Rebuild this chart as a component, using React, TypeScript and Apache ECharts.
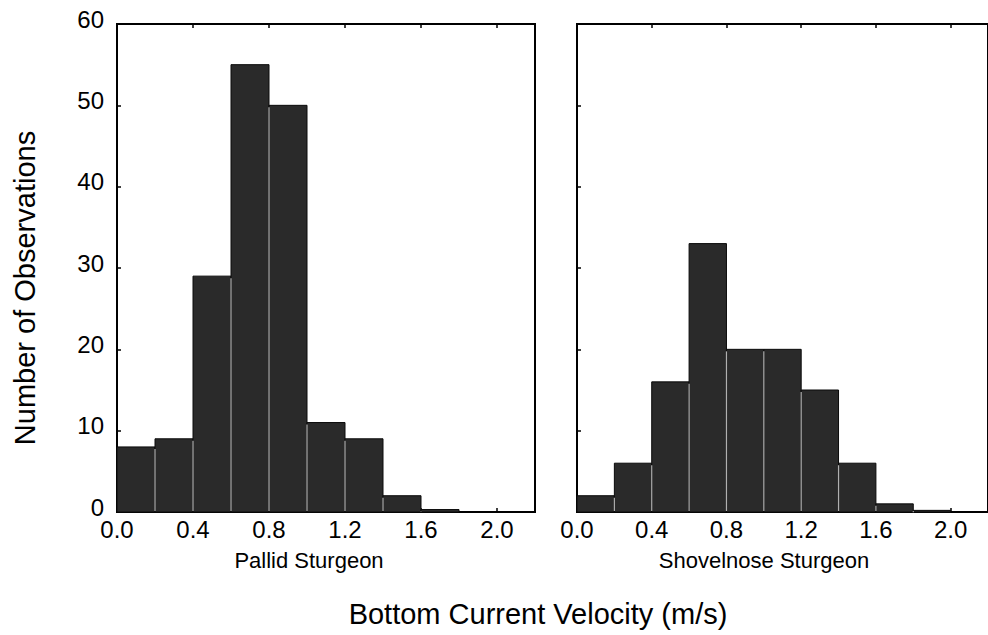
import React, { useEffect, useRef } from "react";
import * as echarts from "echarts";

// Histogram bins: start of each 0.2 m/s bin
const binStarts = [0.0, 0.2, 0.4, 0.6, 0.8, 1.0, 1.2, 1.4, 1.6, 1.8, 2.0];
const binWidth = 0.2;
const pallidCounts = [8, 9, 29, 55, 50, 11, 9, 2, 0.3, 0, 0];
const shovelnoseCounts = [2, 6, 16, 33, 20, 20, 15, 6, 1, 0.2, 0];
const yTicks = [0, 10, 20, 30, 40, 50, 60];
const xTicks = [0.0, 0.4, 0.8, 1.2, 1.6, 2.0];
const panelTitles = ["Pallid Sturgeon", "Shovelnose Sturgeon"];
const yTitle = "Number of Observations";
const xTitle = "Bottom Current Velocity (m/s)";

const FONT = "'Liberation Sans', Arial, Helvetica, sans-serif";

function toData(counts: number[]) {
  return binStarts.map((b, i) => [b, counts[i], i > 0 ? counts[i - 1] : 0]);
}

const renderBar = (params: any, api: any) => {
  const x0 = api.value(0);
  const y = api.value(1);
  const prev = api.value(2);
  if (y <= 0) return null;
  const pBase = api.coord([x0, 0]);
  const pTop = api.coord([x0 + binWidth, y]);
  const sepTop = api.coord([x0, Math.min(y, prev)]);
  const children: any[] = [
    {
      type: "rect",
      shape: {
        x: pBase[0],
        y: pTop[1],
        width: pTop[0] - pBase[0],
        height: pBase[1] - pTop[1],
      },
      style: { fill: "#2a2a2a", stroke: "#0a0a0a", lineWidth: 1 },
    },
  ];
  if (prev > 0) {
    children.push({
      type: "line",
      shape: { x1: pBase[0], y1: pBase[1] - 1, x2: pBase[0], y2: sepTop[1] + 2 },
      style: { stroke: "#b0b0b0", lineWidth: 1.2 },
    });
  }
  return { type: "group", children };
};

export default function App() {
  const ref = useRef<HTMLDivElement>(null);
  useEffect(() => {
    if (!ref.current) return;
    const chart = echarts.init(ref.current, null, { renderer: "svg" });
    const grids = [
      { left: 117, top: 24, width: 418, height: 488 },
      { left: 577, top: 24, width: 415, height: 488 },
    ];
    const xAxis: any[] = [];
    const yAxis: any[] = [];
    grids.forEach((g, i) => {
      xAxis.push({
        type: "value",
        gridIndex: i,
        min: 0,
        max: 2.2,
        interval: 0.4,
        position: "bottom",
        axisLine: { show: false },
        axisTick: { show: true, inside: true, length: 4, lineStyle: { color: "#000", width: 1.5 } },
        splitLine: { show: false },
        axisLabel: {
          show: true,
          margin: 5,
          fontSize: 24,
          fontFamily: FONT,
          color: "#000",
          showMaxLabel: false,
          formatter: (v: number) => (v > 2.05 ? "" : v.toFixed(1)),
        },
      });
      xAxis.push({
        type: "value",
        gridIndex: i,
        min: 0,
        max: 2.2,
        interval: 0.4,
        position: "top",
        axisLine: { show: false },
        axisTick: { show: true, inside: true, length: 4, lineStyle: { color: "#000", width: 1.5 } },
        splitLine: { show: false },
        axisLabel: { show: false },
      });
      yAxis.push({
        type: "value",
        gridIndex: i,
        min: 0,
        max: 60,
        interval: 10,
        axisLine: { show: false },
        axisTick: { show: true, inside: true, length: 4, lineStyle: { color: "#000", width: 1.5 } },
        splitLine: { show: false },
        axisLabel: {
          show: i === 0,
          margin: 13,
          fontFamily: FONT,
          color: "#000",
          formatter: (v: number) => (yTicks.includes(v) ? "{a|" + v + "}" : ""),
          rich: {
            a: {
              fontSize: 24,
              fontFamily: FONT,
              color: "#000",
              padding: [0, 0, 10, 0],
            },
          },
        },
      });
    });

    chart.setOption({
      animation: false,
      backgroundColor: "#fff",
      grid: grids.map((g) => ({ ...g, show: true, borderColor: "#000", borderWidth: 2, backgroundColor: "transparent" })),
      xAxis,
      yAxis,
      series: [
        {
          type: "custom",
          xAxisIndex: 0,
          yAxisIndex: 0,
          renderItem: renderBar,
          data: toData(pallidCounts),
          encode: { x: 0, y: 1 },
        },
        {
          type: "custom",
          xAxisIndex: 2,
          yAxisIndex: 1,
          renderItem: renderBar,
          data: toData(shovelnoseCounts),
          encode: { x: 0, y: 1 },
        },
      ],
      graphic: [
        {
          type: "text",
          x: 25,
          y: 288,
          rotation: Math.PI / 2,
          style: {
            text: yTitle,
            fontSize: 29,
            fontFamily: FONT,
            fill: "#000",
            textAlign: "center",
            textVerticalAlign: "middle",
          },
        },
        {
          type: "text",
          x: 309,
          y: 560,
          style: {
            text: panelTitles[0],
            fontSize: 22,
            fontFamily: FONT,
            fill: "#000",
            textAlign: "center",
            textVerticalAlign: "middle",
          },
        },
        {
          type: "text",
          x: 764,
          y: 560,
          style: {
            text: panelTitles[1],
            fontSize: 22,
            fontFamily: FONT,
            fill: "#000",
            textAlign: "center",
            textVerticalAlign: "middle",
          },
        },
        {
          type: "text",
          x: 538,
          y: 614,
          style: {
            text: xTitle,
            fontSize: 29,
            fontFamily: FONT,
            fill: "#000",
            textAlign: "center",
            textVerticalAlign: "middle",
          },
        },
      ],
    });
    return () => chart.dispose();
  }, []);
  return (
    <div
      ref={ref}
      style={{ position: "absolute", left: 0, top: 0, width: 988, height: 635, background: "#fff" }}
    />
  );
}
